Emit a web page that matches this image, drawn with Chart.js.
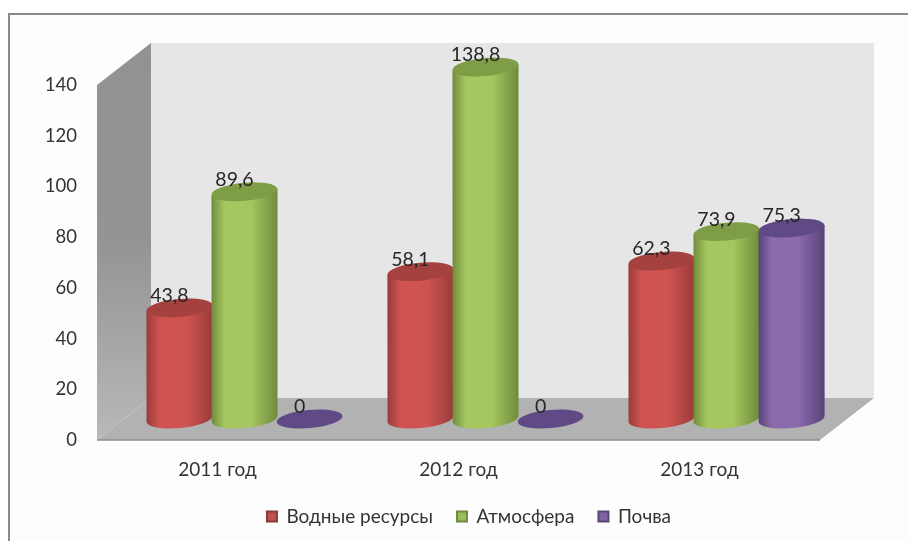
<!DOCTYPE html>
<html>
<head>
<meta charset="utf-8">
<style>
    html, body { margin: 0; padding: 0; background: #fff; }
    #wrap { position: relative; width: 908px; height: 541px; overflow: hidden; }
    #frame { position: absolute; left: 8px; top: 13px; width: 920px; height: 560px; border: 2px solid #8a8a8a; background: #fdfdfd; box-sizing: border-box; }
    canvas { position: absolute; left: 0; top: 0; filter: blur(0.4px); }
</style>
<script src="https://cdn.jsdelivr.net/npm/chart.js@4/dist/chart.umd.min.js"></script>
</head>
<body>
<div id="wrap">
    <div id="frame"></div>
    <canvas id="chart" width="908" height="541"></canvas>
</div>
<script>
const years = ['2011 год', '2012 год', '2013 год'];
const waterValues = [43.8, 58.1, 62.3];
const airValues = [89.6, 138.8, 73.9];
const soilValues = [0, 0, 75.3];
const yTicks = [0, 20, 40, 60, 80, 100, 120, 140];

const seriesColors = [
    { legend: '#c0504d', border: '#8c3a38', edge: '#9a3c3a', mid: '#cf5451', cap: '#a5423f' },
    { legend: '#9bbb59', border: '#6f8a3c', edge: '#6f8b3c', mid: '#a6c75f', cap: '#7f9c46' },
    { legend: '#8064a2', border: '#5a4676', edge: '#594378', mid: '#8b6aae', cap: '#604a86' }
];

// how far the back wall sits behind the front of the chart
const DEPTH_X = 54;
const DEPTH_Y = 42;
const TILT = -0.09;
const CAP_RY = 9;

function drawWalls(ctx, area) {
    const { left, right, top, bottom } = area;

    ctx.fillStyle = '#e6e6e6';
    ctx.fillRect(left + DEPTH_X, top - DEPTH_Y, right - left, bottom - top);

    const wall = ctx.createLinearGradient(0, top - DEPTH_Y, 0, bottom);
    wall.addColorStop(0, '#929292');
    wall.addColorStop(0.5, '#949494');
    wall.addColorStop(1, '#b8b8b8');
    ctx.fillStyle = wall;
    ctx.beginPath();
    ctx.moveTo(left, top);
    ctx.lineTo(left + DEPTH_X, top - DEPTH_Y);
    ctx.lineTo(left + DEPTH_X, bottom - DEPTH_Y);
    ctx.lineTo(left, bottom);
    ctx.closePath();
    ctx.fill();

    ctx.fillStyle = '#b2b2b2';
    ctx.beginPath();
    ctx.moveTo(left, bottom);
    ctx.lineTo(right, bottom);
    ctx.lineTo(right + DEPTH_X, bottom - DEPTH_Y);
    ctx.lineTo(left + DEPTH_X, bottom - DEPTH_Y);
    ctx.closePath();
    ctx.fill();

    ctx.strokeStyle = '#8e8e8e';
    ctx.lineWidth = 1.5;
    ctx.beginPath();
    ctx.moveTo(left, bottom);
    ctx.lineTo(right, bottom);
    ctx.stroke();
}

function drawCylinder(ctx, bar, colors) {
    const cx = bar.x + DEPTH_X / 2;
    const rx = bar.width / 2 + 0.5;
    const topY = bar.y - DEPTH_Y / 2;
    const baseY = bar.base - DEPTH_Y / 2;

    if (baseY - topY > 1) {
        const dy = rx * Math.sin(TILT);
        const body = ctx.createLinearGradient(cx - rx, 0, cx + rx, 0);
        body.addColorStop(0, colors.edge);
        body.addColorStop(0.2, colors.mid);
        body.addColorStop(0.6, colors.mid);
        body.addColorStop(1, colors.edge);
        ctx.fillStyle = body;
        ctx.beginPath();
        ctx.moveTo(cx - rx, topY - dy);
        ctx.lineTo(cx + rx, topY + dy);
        ctx.lineTo(cx + rx, baseY + dy);
        ctx.ellipse(cx, baseY, rx, CAP_RY, TILT, 0, Math.PI);
        ctx.closePath();
        ctx.fill();
    }

    ctx.fillStyle = colors.cap;
    ctx.beginPath();
    ctx.ellipse(cx, topY, rx, CAP_RY, TILT, 0, Math.PI * 2);
    ctx.fill();
}

function drawValueLabel(ctx, bar, value) {
    ctx.fillStyle = '#262626';
    ctx.font = '19.5px Lato';
    ctx.textAlign = 'center';
    ctx.textBaseline = 'middle';
    ctx.fillText(String(value).replace('.', ','), bar.x + DEPTH_X / 2 - 10, bar.y - DEPTH_Y / 2 - 12);
}

const cylinders = {
    id: 'cylinders',
    beforeDraw(chart) {
        // the legend sits a little right of the canvas centre and lower than its box
        chart.legend.left = 15;
        chart.legend.right = chart.width + 15;
        chart.legend.top = chart.height - chart.legend.height - 5;
    },
    beforeDatasetsDraw(chart) {
        const ctx = chart.ctx;
        ctx.save();
        drawWalls(ctx, chart.chartArea);
        chart.data.datasets.forEach((ds, i) => {
            chart.getDatasetMeta(i).data.forEach(bar => {
                const props = bar.getProps(['x', 'y', 'base', 'width'], true);
                drawCylinder(ctx, props, seriesColors[i]);
            });
        });
        chart.data.datasets.forEach((ds, i) => {
            chart.getDatasetMeta(i).data.forEach((bar, j) => {
                drawValueLabel(ctx, bar.getProps(['x', 'y'], true), ds.data[j]);
            });
        });
        ctx.restore();
        return false;
    }
};

Chart.defaults.font.family = 'Lato';
Chart.defaults.color = '#333';

new Chart(document.getElementById('chart'), {
    type: 'bar',
    data: {
        labels: years,
        datasets: [
            { label: 'Водные ресурсы', data: waterValues, backgroundColor: seriesColors[0].legend, borderColor: seriesColors[0].border, borderWidth: 2 },
            { label: 'Атмосфера', data: airValues, backgroundColor: seriesColors[1].legend, borderColor: seriesColors[1].border, borderWidth: 2 },
            { label: 'Почва', data: soilValues, backgroundColor: seriesColors[2].legend, borderColor: seriesColors[2].border, borderWidth: 2 }
        ]
    },
    options: {
        responsive: false,
        animation: false,
        events: [],
        layout: { padding: { top: 85, right: 88 } },
        datasets: { bar: { barPercentage: 1, categoryPercentage: 0.81 } },
        plugins: {
            tooltip: { enabled: false },
            legend: {
                position: 'bottom',
                labels: { boxWidth: 10, boxHeight: 10, padding: 24, font: { size: 19 } }
            }
        },
        scales: {
            x: {
                grid: { display: false },
                border: { display: false },
                ticks: { font: { size: 19 }, padding: 10, maxRotation: 0 },
                afterFit(scale) { scale.height = 48; }
            },
            y: {
                min: 0,
                max: 140,
                grid: { display: false },
                border: { display: false },
                afterBuildTicks(scale) { scale.ticks = yTicks.map(v => ({ value: v })); },
                ticks: { font: { size: 18.5 }, padding: 12 },
                afterFit(scale) { scale.width = 97; }
            }
        }
    },
    plugins: [cylinders]
});
</script>
</body>
</html>
